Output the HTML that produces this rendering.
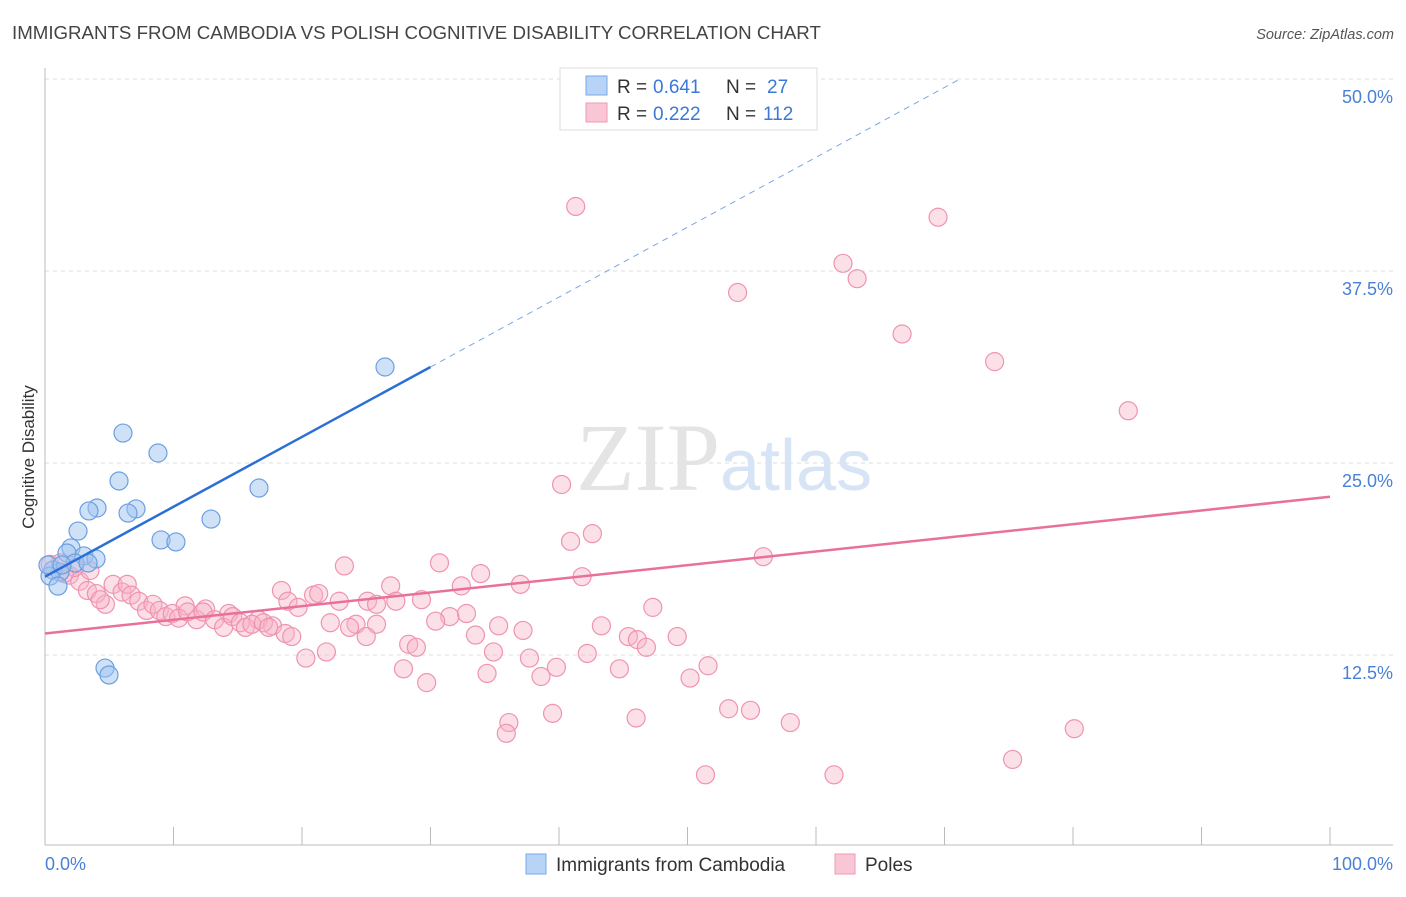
<!DOCTYPE html>
<html><head><meta charset="utf-8"><style>
body{margin:0;background:#fff;width:1406px;height:892px;overflow:hidden;font-family:"Liberation Sans",sans-serif}
svg text{font-family:"Liberation Sans",sans-serif}
</style></head><body>
<svg id="chart" width="1406" height="892">
<text x="12" y="39" font-size="18.7" fill="#444">IMMIGRANTS FROM CAMBODIA VS POLISH COGNITIVE DISABILITY CORRELATION CHART</text>
<text x="1394" y="39" font-size="14.5" fill="#555" font-style="italic" text-anchor="end">Source: ZipAtlas.com</text>
<text transform="translate(34,457) rotate(-90)" font-size="17" fill="#333" text-anchor="middle">Cognitive Disability</text>
<g id="grid"></g>
<text x="720" y="490" font-size="96" fill="#e4e4e4" text-anchor="end" style="font-family:'Liberation Serif',serif">ZIP</text>
<text x="720" y="490" font-size="72" fill="#d6e4f5">atlas</text>
<g id="marks"></g>
<g>
<rect x="560" y="68" width="257" height="62" fill="#fff" stroke="#ddd"/>
<rect x="586" y="76" width="21" height="19" fill="#b7d3f6" stroke="#7aa9e8"/>
<rect x="586" y="103" width="21" height="19" fill="#f9c6d5" stroke="#ee9ab5"/>
<text x="617" y="93" font-size="19" fill="#333">R = </text><text x="653" y="93" font-size="19" fill="#3b78d8">0.641</text>
<text x="726" y="93" font-size="19" fill="#333">N = </text><text x="767" y="93" font-size="19" fill="#3b78d8">27</text>
<text x="617" y="120" font-size="19" fill="#333">R = </text><text x="653" y="120" font-size="19" fill="#3b78d8">0.222</text>
<text x="726" y="120" font-size="19" fill="#333">N = </text><text x="763" y="120" font-size="19" fill="#3b78d8">112</text>
</g>
<g>
<rect x="526" y="854" width="20" height="20" fill="#b7d3f6" stroke="#7aa9e8"/>
<text x="556" y="871" font-size="19" fill="#333">Immigrants from Cambodia</text>
<rect x="835" y="854" width="20" height="20" fill="#f9c6d5" stroke="#ee9ab5"/>
<text x="865" y="871" font-size="19" fill="#333">Poles</text>
</g>
</svg>
<script>
const yTicks=[12.5,25,37.5,50];
const yTickLabels=["12.5%","25.0%","37.5%","50.0%"];
const xTickLabels=["0.0%","100.0%"];
const blueTrend=[17.6,0.455];
const pinkTrend=[13.9,22.8];
const blueX=[6.07,8.79,5.76,16.65,4.05,3.42,7.08,6.46,12.92,2.57,9.03,10.19,2.02,1.71,3.03,3.97,2.33,3.35,0.62,1.17,0.39,1.01,26.46,4.67,4.98,0.23,1.32];
const blueY=[26.95,25.65,23.83,23.37,22.07,21.88,22.01,21.74,21.35,20.57,19.99,19.86,19.47,19.14,18.95,18.75,18.49,18.49,18.03,17.9,17.64,16.99,31.25,11.65,11.2,18.36,18.36];
const pinkX=[41.3,69.5,62.1,63.2,53.9,66.7,73.9,84.3,40.2,42.6,40.9,55.9,30.7,23.3,33.9,41.8,37.0,26.9,32.4,18.4,20.9,21.3,18.9,22.9,25.1,27.3,29.3,25.8,47.3,32.8,31.5,10.9,12.5,14.3,16.6,17.7,22.2,24.2,25.8,30.4,35.3,37.2,43.3,45.4,46.1,46.8,49.2,33.5,28.3,28.9,25.0,23.7,34.9,37.7,39.8,42.2,20.3,21.9,27.9,29.7,34.4,38.6,44.7,50.2,51.6,53.2,54.9,58.0,46.0,39.5,36.1,35.9,51.4,61.4,75.3,80.1,
0.4,1.2,1.9,2.7,3.3,4.0,4.7,5.3,6.0,6.4,6.7,7.3,7.9,8.4,8.9,9.4,9.9,10.4,11.1,11.8,12.3,13.2,13.9,14.6,15.2,15.6,16.1,17.0,17.4,18.7,19.2,19.7,3.5,2.3,1.5,4.3];
const pinkY=[41.7,41.0,38.0,37.0,36.1,33.4,31.6,28.4,23.6,20.4,19.9,18.9,18.5,18.3,17.8,17.6,17.1,17.0,17.0,16.7,16.4,16.5,16.0,16.0,16.0,16.0,16.1,15.8,15.6,15.2,15.0,15.7,15.5,15.2,14.8,14.4,14.6,14.5,14.5,14.7,14.4,14.1,14.4,13.7,13.5,13.0,13.7,13.8,13.2,13.0,13.7,14.3,12.7,12.3,11.7,12.6,12.3,12.7,11.6,10.7,11.3,11.1,11.6,11.0,11.8,9.0,8.9,8.1,8.4,8.7,8.1,7.4,4.7,4.7,5.7,7.7,
18.4,18.5,17.7,17.3,16.7,16.5,15.8,17.1,16.6,17.1,16.4,16.0,15.4,15.8,15.4,15.0,15.2,14.9,15.3,14.8,15.3,14.8,14.3,15.0,14.6,14.3,14.5,14.6,14.3,13.9,13.7,15.6,18.0,18.2,17.8,16.1];
const NS='http://www.w3.org/2000/svg';
const X0=45,X1=1330,YB=847,PPU=15.36;
function sx(v){return X0+v*(X1-X0)/100;}
function sy(v){return YB-v*PPU;}
function mk(tag,attrs,parent){const e=document.createElementNS(NS,tag);for(const k in attrs)e.setAttribute(k,attrs[k]);parent.appendChild(e);return e;}
const grid=document.getElementById('grid'),marks=document.getElementById('marks');
yTicks.forEach((t,i)=>{
 const g=mk('line',{x1:45,x2:1393,y1:sy(t),y2:sy(t),stroke:'#ddd','stroke-dasharray':'4,4'},grid);
 
 
 const tx=mk('text',{x:1393,y:sy(t)+24,'font-size':18,fill:'#4a80d6','text-anchor':'end'},grid);
 tx.textContent=yTickLabels[i];
 
 
});
const ax=mk('line',{x1:45,x2:45,y1:68,y2:845,stroke:'#bbb'},grid);


const bx=mk('line',{x1:45,x2:1393,y1:845,y2:845,stroke:'#bbb'},grid);


for(let i=1;i<=10;i++){const t=mk('line',{x1:sx(i*10),x2:sx(i*10),y1:827,y2:845,stroke:'#bbb'},grid);
 
 }
const xl0=mk('text',{x:45,y:870,'font-size':18,fill:'#4a80d6'},grid);xl0.textContent=xTickLabels[0];


const xl1=mk('text',{x:1393,y:870,'font-size':18,fill:'#4a80d6','text-anchor':'end'},grid);xl1.textContent=xTickLabels[1];


function dots(xs,ys,fill,stroke,name){xs.forEach((x,i)=>{const c=mk('circle',{cx:sx(x),cy:sy(ys[i]),r:9,fill:fill,stroke:stroke,'stroke-width':1.2},marks);
 
 });}
dots(pinkX,pinkY,'rgba(248,178,198,0.4)','#ef93b1','poles-point');
dots(blueX,blueY,'rgba(160,196,240,0.5)','#6c9fe0','cambodia-point');
const bi=blueTrend[0],bs=blueTrend[1];
const xEnd=Math.min(100,(50-bi)/bs);
const bl=mk('line',{x1:sx(0),y1:sy(bi),x2:sx(30),y2:sy(bi+bs*30),stroke:'#2a6fd6','stroke-width':2.5},marks);


const bd=mk('line',{x1:sx(30),y1:sy(bi+bs*30),x2:sx(xEnd),y2:sy(bi+bs*xEnd),stroke:'#7aa6e6','stroke-width':1,'stroke-dasharray':'6,5'},marks);


const pl=mk('line',{x1:sx(0),y1:sy(pinkTrend[0]),x2:sx(100),y2:sy(pinkTrend[1]),stroke:'#e8709b','stroke-width':2.5},marks);


</script>
</body></html>
